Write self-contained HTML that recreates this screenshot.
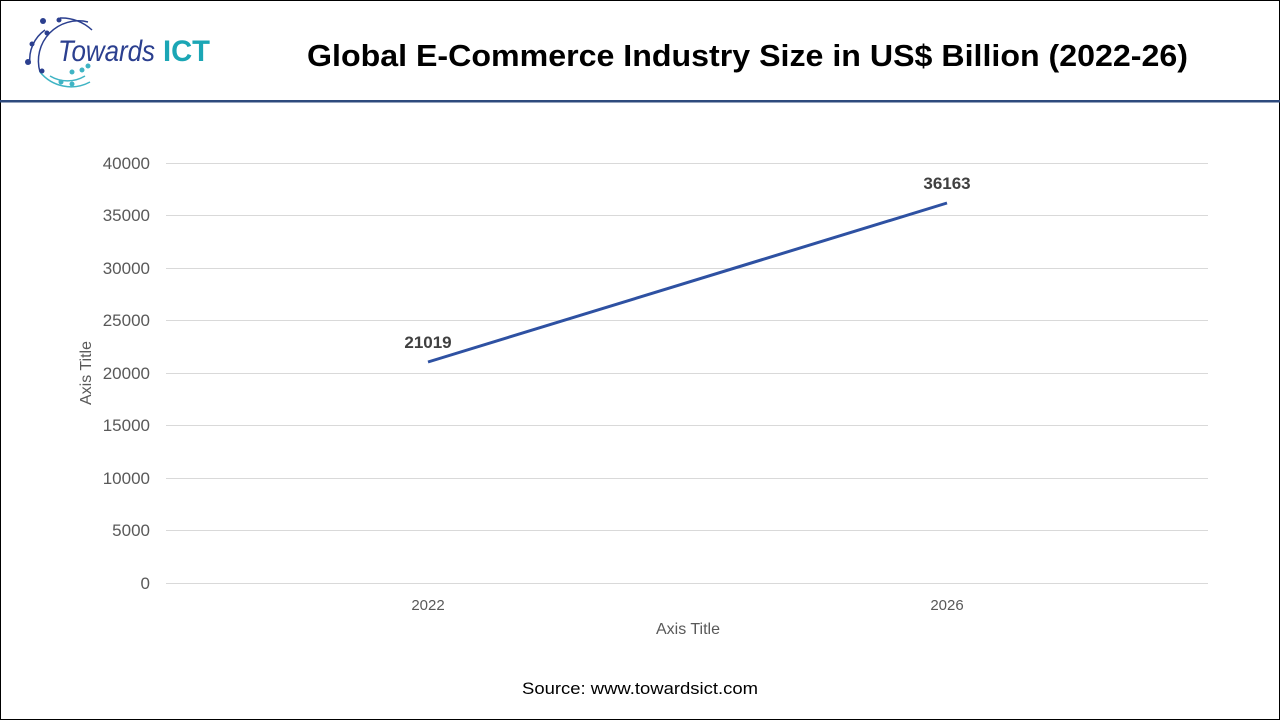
<!DOCTYPE html>
<html><head><meta charset="utf-8"><style>
html,body{margin:0;padding:0;background:#fff;}
body{width:1280px;height:720px;position:relative;overflow:hidden;font-family:"Liberation Sans",Arial,sans-serif;}
.frame{position:absolute;left:0;top:0;width:1278px;height:718px;border:1px solid #000;}
</style></head><body>
<div class="frame"></div>
<svg width="1280" height="720" style="position:absolute;left:0;top:0">
  <g fill="none" stroke-width="1.5">
    <path d="M88,22 A40,40 0 0 0 40,72" stroke="#2b3f8f"/>
    <path d="M45,30 A36,36 0 0 0 30,64" stroke="#2b3f8f"/>
    <path d="M40,72 A40,40 0 0 0 90,82" stroke="#3fb4c4"/>
    <path d="M50,76 A34,34 0 0 0 85,76" stroke="#3fb4c4"/>
    <path d="M60,18 A44,44 0 0 1 92,30" stroke="#2b3f8f"/>
  </g>
  <g fill="#2b3f8f"><circle cx="43" cy="21" r="3"/><circle cx="59" cy="20" r="2.5"/><circle cx="47" cy="33" r="2.5"/><circle cx="32" cy="44" r="2.5"/><circle cx="28" cy="62" r="3"/><circle cx="42" cy="71" r="2.5"/></g>
  <g fill="#3fb4c4"><circle cx="72" cy="72" r="2.5"/><circle cx="82" cy="70" r="2.5"/><circle cx="88" cy="66" r="2.5"/><circle cx="61" cy="82" r="2.5"/><circle cx="72" cy="84" r="2.5"/></g>
  <text x="58" y="61" font-size="30" font-style="italic" fill="#2b3f8f" textLength="97" lengthAdjust="spacingAndGlyphs">Towards</text>
  <text x="163" y="61" font-size="30" font-weight="bold" fill="#1ba6b5" textLength="47" lengthAdjust="spacingAndGlyphs">ICT</text>
  <text x="307" y="66" font-size="31" font-weight="bold" fill="#000" textLength="881" lengthAdjust="spacingAndGlyphs">Global E-Commerce Industry Size in US$ Billion (2022-26)</text>
  <rect x="0" y="100" width="1280" height="2.5" fill="#2e4a7d"/>
  <g stroke="#d9d9d9" stroke-width="1">
    <line x1="166" y1="163.5" x2="1208" y2="163.5"/>
    <line x1="166" y1="215.5" x2="1208" y2="215.5"/>
    <line x1="166" y1="268.5" x2="1208" y2="268.5"/>
    <line x1="166" y1="320.5" x2="1208" y2="320.5"/>
    <line x1="166" y1="373.5" x2="1208" y2="373.5"/>
    <line x1="166" y1="425.5" x2="1208" y2="425.5"/>
    <line x1="166" y1="478.5" x2="1208" y2="478.5"/>
    <line x1="166" y1="530.5" x2="1208" y2="530.5"/>
    <line x1="166" y1="583.5" x2="1208" y2="583.5"/>
  </g>
  <g font-size="17" fill="#595959" text-anchor="end">
    <text x="150" y="169">40000</text><text x="150" y="221">35000</text><text x="150" y="274">30000</text>
    <text x="150" y="326">25000</text><text x="150" y="379">20000</text><text x="150" y="431">15000</text>
    <text x="150" y="484">10000</text><text x="150" y="536">5000</text><text x="150" y="589">0</text>
  </g>
  <g font-size="15" fill="#595959" text-anchor="middle">
    <text x="428" y="610">2022</text><text x="947" y="610">2026</text>
    <text x="688" y="634" font-size="16">Axis Title</text>
    <text transform="translate(91,373) rotate(-90)" font-size="16">Axis Title</text>
  </g>
  <line x1="428" y1="362" x2="947" y2="203" stroke="#2e51a2" stroke-width="3"/>
  <g font-size="17" font-weight="bold" fill="#404040" text-anchor="middle">
    <text x="428" y="348">21019</text><text x="947" y="189">36163</text>
  </g>
  <text x="522" y="694" font-size="17" fill="#000" textLength="236" lengthAdjust="spacingAndGlyphs">Source: www.towardsict.com</text>
</svg>
</body></html>
